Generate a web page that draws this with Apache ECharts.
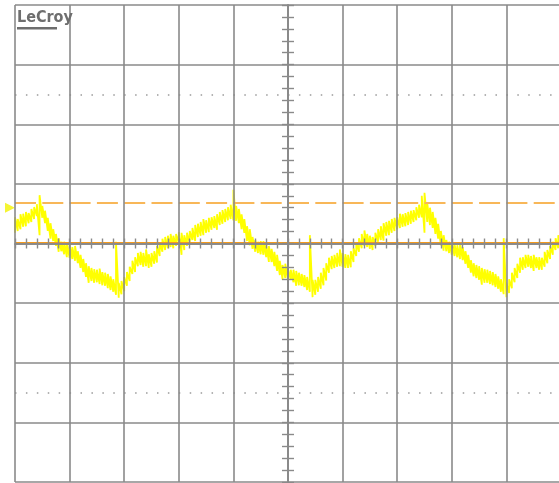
<!DOCTYPE html>
<html>
<head>
<meta charset="utf-8">
<script src="https://cdn.jsdelivr.net/npm/echarts@6/dist/echarts.min.js"></script>
<style>
  html, body { margin: 0; padding: 0; background: #ffffff; }
  #scope { width: 559px; height: 483px; }
</style>
</head>
<body>
<div id="scope"></div>
<script>
// Screen span in divisions (10 horizontal x 8 vertical), centred on 0
const timeStart = -5;
const timeStep = 0.05;

// Channel trace: upper and lower edge of the noisy band at each sample (div)
const traceMax = [
  0.44, 0.41, 0.49, 0.50, 0.53, 0.51, 0.58, 0.61, 0.66, 0.81,
  0.63, 0.55, 0.43, 0.34, 0.24, 0.16, 0.09, 0.03, 0.03, -0.01,
  -0.03, -0.06, -0.04, -0.13, -0.19, -0.26, -0.33, -0.38, -0.41, -0.43,
  -0.44, -0.42, -0.48, -0.49, -0.51, -0.55, -0.60, 0.03, -0.66, -0.63,
  -0.56, -0.48, -0.39, -0.29, -0.23, -0.16, -0.14, -0.16, -0.10, -0.18,
  -0.16, -0.13, -0.04, 0.01, 0.08, 0.11, 0.13, 0.16, 0.13, 0.16,
  0.19, 0.18, 0.14, 0.18, 0.21, 0.26, 0.31, 0.33, 0.36, 0.41,
  0.39, 0.43, 0.44, 0.46, 0.49, 0.53, 0.56, 0.58, 0.61, 0.65,
  0.90, 0.63, 0.58, 0.49, 0.41, 0.29, 0.24, 0.11, 0.06, 0.03,
  0.04, 0.04, -0.01, -0.04, -0.09, -0.14, -0.19, -0.29, -0.36, -0.34,
  -0.43, -0.44, -0.44, -0.46, -0.49, -0.51, -0.53, -0.56, 0.14, -0.61,
  -0.61, -0.56, -0.49, -0.41, -0.33, -0.24, -0.21, -0.19, -0.16, -0.10,
  -0.16, -0.18, -0.19, -0.13, -0.08, 0.01, 0.09, 0.16, 0.22, 0.16,
  0.13, 0.11, 0.18, 0.24, 0.29, 0.34, 0.36, 0.38, 0.41, 0.43,
  0.44, 0.50, 0.49, 0.51, 0.53, 0.55, 0.56, 0.61, 0.65, 0.80,
  0.85, 0.68, 0.60, 0.53, 0.43, 0.33, 0.21, 0.14, 0.06, 0.03,
  0.01, -0.01, -0.03, 0.00, -0.06, -0.13, -0.19, -0.28, -0.33, -0.36,
  -0.38, -0.41, -0.43, -0.44, -0.46, -0.48, -0.51, -0.55, -0.60, 0.09,
  -0.66, -0.60, -0.49, -0.41, -0.34, -0.24, -0.23, -0.19, -0.19, -0.21,
  -0.19, -0.23, -0.23, -0.24, -0.14, -0.11, -0.04, 0.03, 0.09, 0.14,
  0.19
];
const traceMin = [
  0.18, 0.21, 0.24, 0.28, 0.29, 0.34, 0.36, 0.41, 0.46, 0.14,
  0.43, 0.34, 0.21, 0.08, 0.04, -0.04, -0.14, -0.13, -0.18, -0.23,
  -0.24, -0.26, -0.29, -0.33, -0.41, -0.48, -0.56, -0.66, -0.63, -0.66,
  -0.65, -0.68, -0.70, -0.71, -0.75, -0.78, -0.81, -0.86, -0.91, -0.85,
  -0.80, -0.71, -0.63, -0.51, -0.48, -0.38, -0.36, -0.39, -0.38, -0.41,
  -0.39, -0.34, -0.32, -0.21, -0.14, -0.11, -0.08, -0.06, -0.08, -0.04,
  0.01, -0.19, -0.11, -0.04, 0.01, 0.06, 0.04, 0.11, 0.13, 0.14,
  0.18, 0.19, 0.23, 0.26, 0.23, 0.31, 0.33, 0.36, 0.39, 0.41,
  0.39, 0.38, 0.34, 0.24, 0.18, 0.04, -0.03, -0.09, -0.14, -0.16,
  -0.18, -0.19, -0.23, -0.31, -0.31, -0.38, -0.46, -0.53, -0.60, -0.58,
  -0.61, -0.61, -0.65, -0.71, -0.70, -0.71, -0.73, -0.78, -0.81, -0.90,
  -0.86, -0.81, -0.76, -0.70, -0.62, -0.49, -0.43, -0.41, -0.39, -0.38,
  -0.39, -0.41, -0.41, -0.40, -0.31, -0.21, -0.14, -0.08, -0.04, -0.06,
  -0.09, -0.11, -0.04, 0.03, 0.06, 0.05, 0.13, 0.14, 0.18, 0.21,
  0.24, 0.26, 0.28, 0.29, 0.31, 0.33, 0.36, 0.39, 0.43, 0.44,
  0.18, 0.36, 0.31, 0.26, 0.16, 0.08, -0.03, -0.12, -0.13, -0.16,
  -0.19, -0.21, -0.23, -0.26, -0.28, -0.34, -0.41, -0.49, -0.55, -0.58,
  -0.61, -0.69, -0.66, -0.66, -0.68, -0.70, -0.73, -0.76, -0.81, -0.85,
  -0.90, -0.83, -0.75, -0.65, -0.58, -0.49, -0.44, -0.41, -0.39, -0.41,
  -0.46, -0.41, -0.44, -0.44, -0.39, -0.33, -0.26, -0.19, -0.11, -0.08,
  -0.01
];

// Horizontal levels (div)
const referenceLevel = 0.02;   // solid orange marker line
const cursorLevel = 0.68;      // dashed orange cursor
const triggerLevel = 0.60;     // trigger arrow on the left edge
const dottedLevels = [2.5, -2.5];

// Zig-zag through each sample's lower and upper edge to draw the band
const traceData = [];
for (let i = 0; i < traceMax.length; i++) {
  const t = +(timeStart + i * timeStep).toFixed(3);
  traceData.push([t, traceMin[i]], [t, traceMax[i]]);
}

const gridGrey = '#8a8a8a';
const hidden = { show: false };

function centreAxis(dim, position, tickLen) {
  return {
    type: 'value',
    min: dim === 'x' ? -5 : -4,
    max: dim === 'x' ? 5 : 4,
    interval: 1,
    position: position,
    z: 4,
    axisLine: { show: true, onZero: true, onZeroAxisIndex: 0, lineStyle: { color: gridGrey, width: 1.6 } },
    axisTick: { show: true, length: tickLen, lineStyle: { color: gridGrey, width: 1.4 } },
    minorTick: { show: true, splitNumber: 5, length: tickLen, lineStyle: { color: gridGrey, width: 1.4 } },
    axisLabel: hidden,
    splitLine: hidden
  };
}

function frameAxis(dim, position) {
  return {
    type: 'value',
    min: dim === 'x' ? -5 : -4,
    max: dim === 'x' ? 5 : 4,
    interval: 1,
    position: position,
    z: 4,
    axisLine: { show: false, onZero: false },
    axisTick: hidden,
    axisLabel: hidden,
    splitLine: { show: true, lineStyle: { color: gridGrey, width: 1.6 } }
  };
}

const chart = echarts.init(document.getElementById('scope'), null, { renderer: 'canvas' });
chart.setOption({
  animation: false,
  backgroundColor: '#ffffff',
  grid: { left: 15, top: 5, width: 546, height: 477, outerBoundsMode: 'none', containLabel: false },
  xAxis: [frameAxis('x', 'bottom'), centreAxis('x', 'bottom', 5), centreAxis('x', 'top', 5)],
  yAxis: [frameAxis('y', 'left'), centreAxis('y', 'left', 6), centreAxis('y', 'right', 6)],
  graphic: [
    {
      type: 'text', left: 17, top: 10, z: 10,
      style: { text: 'LeCroy', font: 'bold 16px "DejaVu Sans Condensed"', fill: '#6e6e6e' }
    },
    {
      type: 'rect', z: 10,
      shape: { x: 17, y: 27, width: 40, height: 2.5 },
      style: { fill: '#6e6e6e' }
    }
  ],
  series: [
    {
      type: 'line',
      data: traceData,
      showSymbol: false,
      z: 2,
      lineStyle: { color: '#ffff00', width: 1.8 },
      markLine: {
        silent: true,
        symbol: ['none', 'none'],
        label: { show: false },
        z: 3,
        data: [
          { yAxis: cursorLevel, lineStyle: { color: '#f8b758', width: 2, type: [21, 6.3] } },
          { yAxis: referenceLevel, lineStyle: { color: '#f39a1e', width: 2, type: 'solid' } }
        ].concat(dottedLevels.map(v => ({
          yAxis: v, lineStyle: { color: '#9a9a9a', width: 1.5, type: [1.5, 9.42] }
        })))
      }
    },
    {
      type: 'scatter',
      data: [[timeStart, triggerLevel]],
      clip: false,
      z: 3,
      symbol: 'triangle',
      symbolSize: 10,
      symbolRotate: -90,
      symbolOffset: [-5, 0],
      itemStyle: { color: '#f2f200' }
    }
  ]
});
</script>
</body>
</html>
